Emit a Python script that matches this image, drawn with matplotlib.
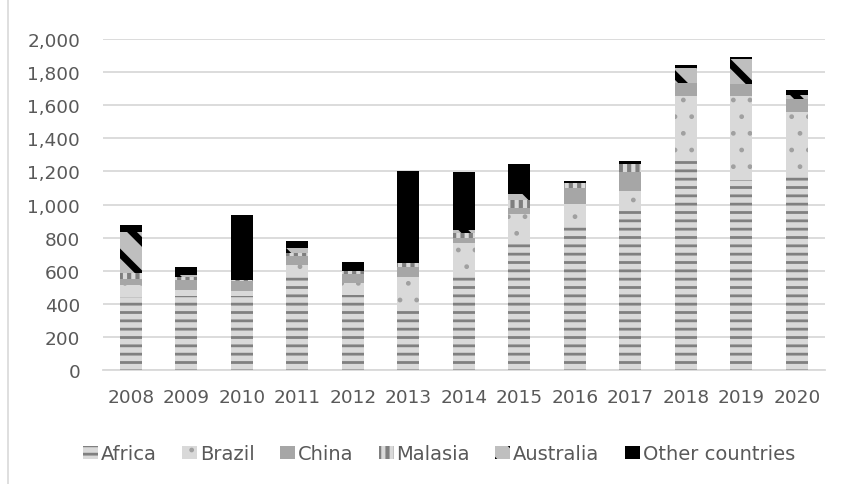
import numpy as np
import matplotlib as mpl
import matplotlib.pyplot as plt
from matplotlib.lines import Line2D

plt.rcParams['font.family'] = ['DejaVu Sans']

years = ['2008', '2009', '2010', '2011', '2012', '2013', '2014',
         '2015', '2016', '2017', '2018', '2019', '2020']
africa = [440, 445, 450, 578, 455, 385, 580, 780, 882, 988, 1290, 1150, 1188]
brazil = [74, 38, 29, 59, 71, 179, 185, 163, 121, 96, 366, 507, 373]
china = [36, 58, 57, 54, 52, 58, 33, 33, 94, 115, 78, 71, 79]
malasia = [36, 23, 8, 15, 22, 23, 31, 53, 32, 46, 0, 0, 0]
australia = [246, 10, 0, 30, 0, 0, 15, 34, 0, 0, 91, 153, 20]
other = [44, 50, 395, 46, 54, 559, 350, 182, 11, 15, 18, 10, 34]

series = [
    ('Africa', africa, '#d9d9d9', '#808080', '--', 2.0),
    ('Brazil', brazil, '#d9d9d9', '#a0a0a0', '.', 1.0),
    ('China', china, '#a6a6a6', '#a6a6a6', '', 1.0),
    ('Malasia', malasia, '#d9d9d9', '#7f7f7f', '||', 3.0),
    ('Australia', australia, '#bfbfbf', '#000000', '\\', 5.0),
    ('Other countries', other, '#000000', '#000000', '', 1.0),
]


def with_hatch_lw(orig_draw, lw):
    # hatch line width is picked up when the patch is drawn
    def draw(renderer):
        with mpl.rc_context({'hatch.linewidth': lw}):
            orig_draw(renderer)
    return draw


fig = plt.figure(figsize=(8.44, 4.85), dpi=100)
ax = fig.add_axes([0.122, 0.235, 0.855, 0.6825])

x = np.arange(len(years))
bottom = np.zeros(len(years))
handles = []
for name, vals, face, hcol, hatch, hlw in series:
    vals = np.array(vals, dtype=float)
    bars = ax.bar(x, vals, 0.4, bottom=bottom, color=face, edgecolor=hcol,
                  hatch=hatch, linewidth=0, label=name, zorder=3)
    for p in bars:
        if hasattr(p, 'set_hatch_linewidth'):
            p.set_hatch_linewidth(hlw)
        p.draw = with_hatch_lw(p.draw, hlw)
    handles.append(bars)
    bottom += vals

ax.set_xlim(-0.5, len(years) - 0.5)
ax.set_ylim(0, 2000)
ax.set_yticks(np.arange(0, 2001, 200))
ax.set_yticklabels([f'{v:,}' for v in range(0, 2001, 200)])
ax.set_xticks(x)
ax.set_xticklabels(years)
ax.yaxis.grid(True, color='#d9d9d9', linewidth=1.3, zorder=0)
ax.set_axisbelow(True)
for side in ['left', 'right', 'top']:
    ax.spines[side].set_visible(False)
ax.spines['bottom'].set_color('#d9d9d9')
ax.spines['bottom'].set_linewidth(1.3)
ax.tick_params(axis='both', length=0, labelsize=13.3, labelcolor='#595959')
ax.tick_params(axis='y', pad=16.5)
ax.tick_params(axis='x', pad=13)

leg = fig.legend(handles=handles, loc='center', bbox_to_anchor=(0.52, 0.062),
                 ncol=6, frameon=False, fontsize=14, handlelength=0.77,
                 handleheight=0.67, handletextpad=0.15, columnspacing=1.3)
for t in leg.get_texts():
    t.set_color('#595959')
for h, s in zip(leg.legend_handles, series):
    if hasattr(h, 'set_hatch_linewidth'):
        h.set_hatch_linewidth(s[5])
    h.draw = with_hatch_lw(h.draw, s[5])

# thin frame edge on the left
fig.add_artist(Line2D([8 / 844, 8 / 844], [0, 1], transform=fig.transFigure,
                      color='#d9d9d9', linewidth=1.2))

fig.savefig('out.png', dpi=100)
